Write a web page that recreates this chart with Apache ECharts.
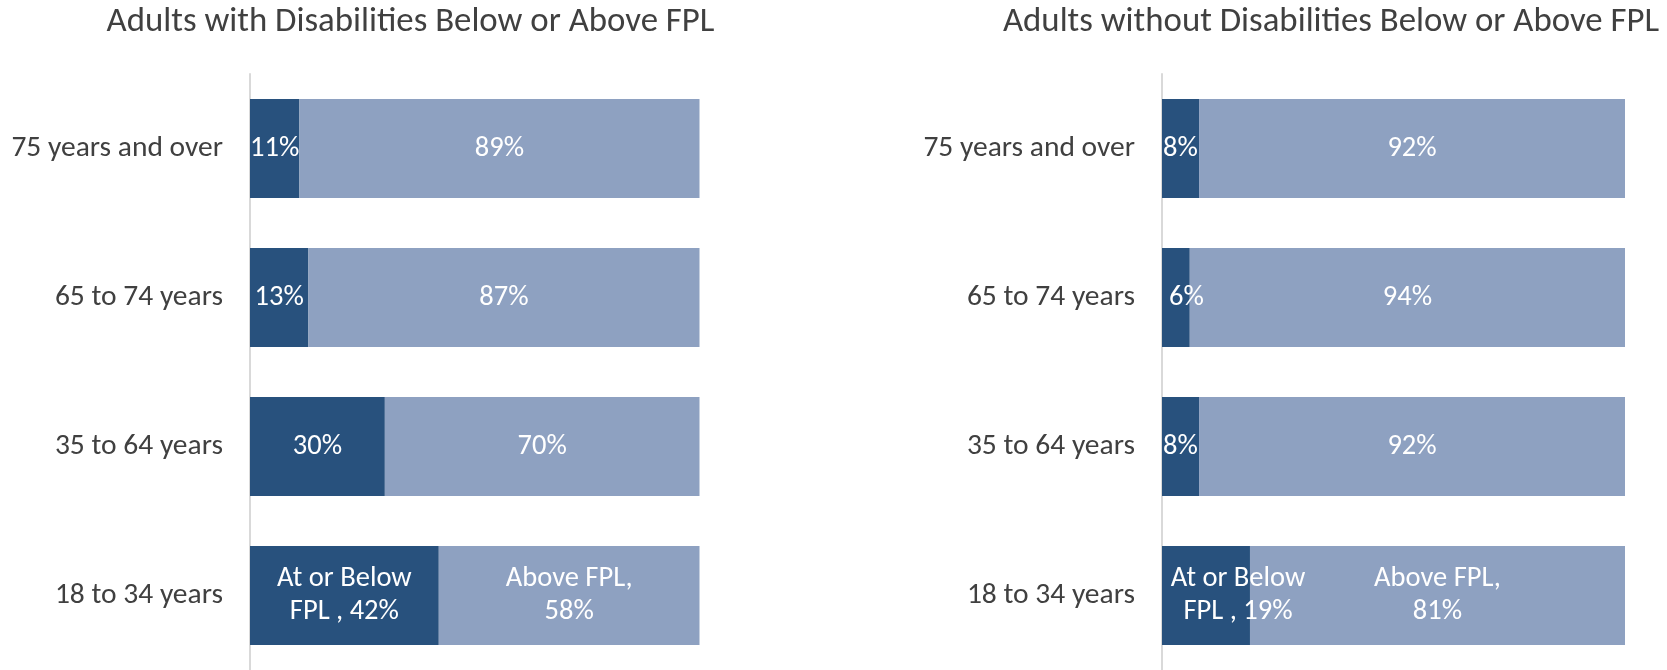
<!DOCTYPE html>
<html>
<head>
<meta charset="utf-8">
<script src="https://cdn.jsdelivr.net/npm/echarts@6/dist/echarts.min.js"></script>
<style>
html,body{margin:0;padding:0;background:#fff;}
#chart{width:1667px;height:670px;}
</style>
</head>
<body>
<div id="chart"></div>
<script>
const categories = ['75 years and over', '65 to 74 years', '35 to 64 years', '18 to 34 years'];
const withBelow = [11, 13, 30, 42];
const withAbove = [89, 87, 70, 58];
const withoutBelow = [8, 6, 8, 19];
const withoutAbove = [92, 94, 92, 81];
const titles = ['Adults with Disabilities Below or Above FPL', 'Adults without Disabilities Below or Above FPL'];
const belowName = 'At or Below FPL ';
const aboveName = 'Above FPL';

const FONT = 'Carlito, "Liberation Sans", Arial, sans-serif';
const DARK = '#28517d';
const LIGHT = '#8ea1c1';

function fmt(name, cats) {
  return function (p) {
    if (p.dataIndex === cats.length - 1) {
      return name === belowName ? 'At or Below\nFPL , ' + p.value + '%' : 'Above FPL,\n' + p.value + '%';
    }
    return p.value + '%';
  };
}

function makeSeries(idx, below, above) {
  const lbl = {
    show: true, color: '#ffffff', fontFamily: FONT, fontSize: 28.5, lineHeight: 33,
    position: 'inside'
  };
  const belowData = below.map((v, i) => {
    const d = { value: v };
    if (idx === 1 && i === below.length - 1) {
      d.label = { position: [76, '50%'], align: 'center', verticalAlign: 'middle' };
    } else if (idx === 1 && i === 1) {
      d.label = { position: [7, '50%'], align: 'left', verticalAlign: 'middle' };
    }
    return d;
  });
  return [
    {
      type: 'bar', name: belowName, stack: 's' + idx, xAxisIndex: idx, yAxisIndex: idx,
      barCategoryGap: '33.5%', itemStyle: { color: DARK },
      label: Object.assign({}, lbl, { formatter: fmt(belowName, categories) }),
      data: belowData
    },
    {
      type: 'bar', name: aboveName, stack: 's' + idx, xAxisIndex: idx, yAxisIndex: idx,
      barCategoryGap: '33.5%', itemStyle: { color: LIGHT },
      label: Object.assign({}, lbl, { formatter: fmt(aboveName, categories) }),
      data: above
    }
  ];
}

const chart = echarts.init(document.getElementById('chart'), null, { renderer: 'canvas' });
const yAxisBase = {
  type: 'category', data: categories, inverse: true,
  axisLine: { show: true, lineStyle: { color: '#d9d9d9', width: 2 } },
  axisTick: { show: false },
  axisLabel: { color: '#404040', fontFamily: FONT, fontSize: 29.5, margin: 27 }
};
const xAxisBase = {
  type: 'value', min: 0, max: 100, show: false, splitLine: { show: false }
};
chart.setOption({
  animation: false,
  backgroundColor: '#ffffff',
  title: [
    { text: titles[0], left: 405.5, top: 0, textAlign: 'center',
      textStyle: { color: '#404040', fontFamily: FONT, fontSize: 34.8, fontWeight: 'normal' } },
    { text: titles[1], left: 1326, top: 0, textAlign: 'center',
      textStyle: { color: '#404040', fontFamily: FONT, fontSize: 34.8, fontWeight: 'normal' } }
  ],
  grid: [
    { left: 250, right: 967.5, top: 74, bottom: 0 },
    { left: 1162, right: 42, top: 74, bottom: 0 }
  ],
  xAxis: [Object.assign({ gridIndex: 0 }, xAxisBase), Object.assign({ gridIndex: 1 }, xAxisBase)],
  yAxis: [Object.assign({ gridIndex: 0 }, yAxisBase), Object.assign({ gridIndex: 1 }, yAxisBase)],
  series: makeSeries(0, withBelow, withAbove).concat(makeSeries(1, withoutBelow, withoutAbove))
});
</script>
</body>
</html>
